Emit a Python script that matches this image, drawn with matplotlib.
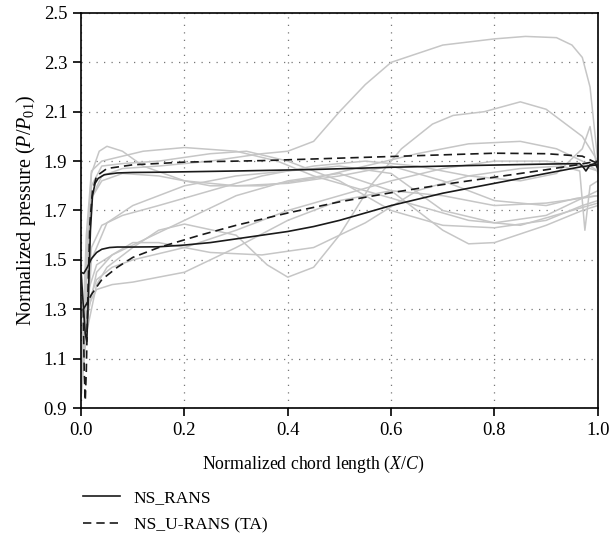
import matplotlib
matplotlib.use('Agg')
import matplotlib.pyplot as plt
from matplotlib import rcParams

config = {
    "font.family": 'Liberation Serif',
    "font.size": 13.5,
    "mathtext.fontset": 'custom',
    "mathtext.rm": 'Liberation Serif',
    "mathtext.it": 'Liberation Serif:italic',
}
rcParams.update(config)

# NS_RANS (solid), closed loop: lower side and upper side
rans_lo_x = [0.0, 0.005, 0.012, 0.02, 0.03, 0.04, 0.055, 0.07, 0.1, 0.15, 0.2, 0.25, 0.3, 0.35, 0.4,
             0.45, 0.5, 0.55, 0.6, 0.65, 0.7, 0.75, 0.8, 0.85, 0.9, 0.95, 0.97, 1.0]
rans_lo_y = [1.45, 1.445, 1.47, 1.505, 1.53, 1.543, 1.55, 1.552, 1.552, 1.553, 1.56, 1.57, 1.585, 1.6, 1.615,
             1.635, 1.66, 1.69, 1.72, 1.745, 1.77, 1.79, 1.81, 1.83, 1.85, 1.87, 1.878, 1.885]
rans_up_x = [0.0, 0.004, 0.008, 0.011, 0.014, 0.018, 0.022, 0.027, 0.033, 0.045, 0.07, 0.1, 0.15, 0.3,
             0.45, 0.6, 0.75, 0.9, 0.965, 0.972, 0.977, 0.985, 0.995, 1.0]
rans_up_y = [1.45, 1.32, 1.2, 1.17, 1.35, 1.62, 1.76, 1.81, 1.83, 1.845, 1.852, 1.854, 1.855, 1.86,
             1.866, 1.875, 1.882, 1.888, 1.89, 1.875, 1.86, 1.885, 1.89, 1.87]

# NS_U-RANS (TA) (dashed)
ta_lo_x = [0.004, 0.01, 0.02, 0.04, 0.07, 0.1, 0.15, 0.23, 0.3, 0.4, 0.5, 0.6, 0.7, 0.8, 0.9, 0.96, 1.0]
ta_lo_y = [1.3, 1.32, 1.36, 1.42, 1.47, 1.51, 1.55, 1.6, 1.64, 1.69, 1.735, 1.772, 1.805, 1.835, 1.865, 1.885, 1.9]
ta_up_x = [0.004, 0.006, 0.008, 0.01, 0.013, 0.017, 0.022, 0.03, 0.05, 0.1, 0.2, 0.35, 0.5, 0.65, 0.8, 0.9, 0.97, 1.0]
ta_up_y = [1.3, 1.05, 0.93, 1.05, 1.35, 1.65, 1.78, 1.84, 1.87, 1.885, 1.896, 1.902, 1.912, 1.922, 1.932, 1.93, 1.92, 1.89]

# instantaneous snapshots (grey)
gx = [
    [0.0, 0.01, 0.02, 0.04, 0.08, 0.15, 0.25, 0.35, 0.4, 0.45, 0.5, 0.55, 0.6, 0.7, 0.8, 0.86, 0.92, 0.95, 0.97, 0.985, 0.995, 1.0],
    [0.0, 0.01, 0.03, 0.05, 0.1, 0.15, 0.2, 0.3, 0.36, 0.4, 0.45, 0.5, 0.56, 0.62, 0.68, 0.72, 0.78, 0.85, 0.9, 0.97, 1.0],
    [0.0, 0.01, 0.02, 0.035, 0.05, 0.08, 0.12, 0.2, 0.3, 0.4, 0.5, 0.6, 0.7, 0.8, 0.9, 0.96, 1.0],
    [0.0, 0.01, 0.02, 0.04, 0.08, 0.12, 0.2, 0.3, 0.38, 0.45, 0.55, 0.65, 0.75, 0.85, 0.95, 1.0],
    [0.0, 0.01, 0.02, 0.04, 0.08, 0.15, 0.25, 0.32, 0.4, 0.5, 0.6, 0.7, 0.8, 0.9, 0.97, 1.0],
    [0.0, 0.01, 0.02, 0.04, 0.08, 0.15, 0.25, 0.35, 0.45, 0.55, 0.65, 0.75, 0.85, 0.92, 0.97, 1.0],
    [0.0, 0.01, 0.02, 0.04, 0.08, 0.15, 0.25, 0.35, 0.45, 0.55, 0.65, 0.75, 0.85, 0.92, 0.97, 0.985, 1.0],
    [0.0, 0.01, 0.03, 0.06, 0.1, 0.15, 0.25, 0.35, 0.45, 0.55, 0.65, 0.75, 0.85, 0.93, 0.965, 0.975, 0.985, 1.0],
    [0.0, 0.01, 0.03, 0.06, 0.1, 0.2, 0.3, 0.4, 0.5, 0.6, 0.7, 0.8, 0.9, 0.97, 1.0],
    [0.0, 0.01, 0.03, 0.06, 0.1, 0.2, 0.3, 0.4, 0.5, 0.6, 0.7, 0.75, 0.8, 0.9, 0.97, 1.0],
    [0.0, 0.01, 0.03, 0.06, 0.1, 0.2, 0.3, 0.4, 0.5, 0.6, 0.7, 0.8, 0.9, 0.97, 1.0],
    [0.0, 0.01, 0.02, 0.05, 0.1, 0.2, 0.3, 0.4, 0.5, 0.6, 0.7, 0.8, 0.9, 0.97, 1.0],
]
gy = [
    [0.95, 1.4, 1.75, 1.84, 1.87, 1.88, 1.9, 1.93, 1.94, 1.98, 2.1, 2.21, 2.3, 2.37, 2.395, 2.405, 2.4, 2.37, 2.32, 2.2, 2.0, 1.9],
    [0.95, 1.2, 1.4, 1.47, 1.55, 1.62, 1.645, 1.6, 1.48, 1.43, 1.47, 1.6, 1.8, 1.95, 2.05, 2.085, 2.1, 2.14, 2.11, 2.0, 1.9],
    [1.0, 1.5, 1.85, 1.94, 1.96, 1.94, 1.88, 1.82, 1.8, 1.81, 1.84, 1.88, 1.82, 1.74, 1.72, 1.75, 1.76],
    [1.0, 1.6, 1.86, 1.9, 1.92, 1.94, 1.955, 1.94, 1.9, 1.84, 1.78, 1.72, 1.66, 1.64, 1.7, 1.73],
    [1.0, 1.5, 1.8, 1.88, 1.89, 1.9, 1.93, 1.94, 1.9, 1.82, 1.7, 1.64, 1.63, 1.66, 1.72, 1.74],
    [1.0, 1.4, 1.75, 1.82, 1.85, 1.84, 1.8, 1.8, 1.83, 1.88, 1.93, 1.97, 1.98, 1.95, 1.9, 1.86],
    [0.95, 1.3, 1.55, 1.64, 1.68, 1.72, 1.78, 1.84, 1.88, 1.9, 1.88, 1.84, 1.82, 1.85, 1.95, 2.04, 1.85],
    [1.0, 1.25, 1.45, 1.52, 1.57, 1.57, 1.53, 1.52, 1.55, 1.65, 1.78, 1.84, 1.87, 1.88, 1.86, 1.62, 1.8, 1.82],
    [1.05, 1.3, 1.38, 1.4, 1.41, 1.45, 1.55, 1.66, 1.74, 1.78, 1.76, 1.72, 1.73, 1.75, 1.76],
    [1.0, 1.35, 1.48, 1.52, 1.56, 1.66, 1.76, 1.82, 1.85, 1.78, 1.62, 1.565, 1.57, 1.64, 1.7, 1.72],
    [1.1, 1.3, 1.42, 1.47, 1.5, 1.55, 1.62, 1.7, 1.76, 1.82, 1.87, 1.9, 1.9, 1.88, 1.86],
    [1.0, 1.2, 1.5, 1.65, 1.72, 1.8, 1.84, 1.86, 1.88, 1.85, 1.7, 1.65, 1.68, 1.75, 1.78],
]

xticks = [0.0, 0.2, 0.4, 0.6, 0.8, 1.0]
yticks = [0.9, 1.1, 1.3, 1.5, 1.7, 1.9, 2.1, 2.3, 2.5]

fig = plt.figure(figsize=(6.1, 5.4), dpi=100)
ax = fig.add_axes([0.133, 0.2444, 0.847, 0.7316])

ax.grid(True, linestyle=(0, (1, 5)), color='#777777', linewidth=0.9)
ax.set_axisbelow(True)

for xs, ys in zip(gx, gy):
    ax.plot(xs, ys, c='#c6c6c6', linewidth=1.1, zorder=2)

line1, = ax.plot(rans_lo_x, rans_lo_y, c='#1a1a1a', linestyle='-', linewidth=1.2, zorder=4)
ax.plot(rans_up_x, rans_up_y, c='#1a1a1a', linestyle='-', linewidth=1.2, zorder=4)
line2, = ax.plot(ta_lo_x, ta_lo_y, c='#1a1a1a', linestyle=(0, (5, 3)), linewidth=1.2, zorder=4)
ax.plot(ta_up_x, ta_up_y, c='#1a1a1a', linestyle=(0, (5, 3)), linewidth=1.2, zorder=4)

ax.set_xlim(0, 1.0)
ax.set_ylim(0.9, 2.5)
ax.set_xticks(xticks)
ax.set_yticks(yticks)
ax.set_xticklabels(['%.1f' % v for v in xticks])
ax.set_yticklabels(['%.1f' % v for v in yticks])
ax.tick_params(axis='both', direction='out', length=6, width=1.2, labelsize=13.5, pad=4)
for s in ax.spines.values():
    s.set_linewidth(1.2)

ax.set_xlabel(r'Normalized chord length ($X/C$)', fontsize=12.8)
ax.xaxis.set_label_coords(0.45, -0.115)
ax.set_ylabel(r'Normalized pressure ($P/P_{01}$)', fontsize=14.5, labelpad=4)

fig.legend([line1, line2], ['NS_RANS', 'NS_U-RANS (TA)'], loc='upper left',
           bbox_to_anchor=(0.125, 0.106), frameon=False, fontsize=12.5,
           handlelength=2.1, handletextpad=0.8, labelspacing=0.65, borderaxespad=0)

fig.savefig('out.png', dpi=100)
